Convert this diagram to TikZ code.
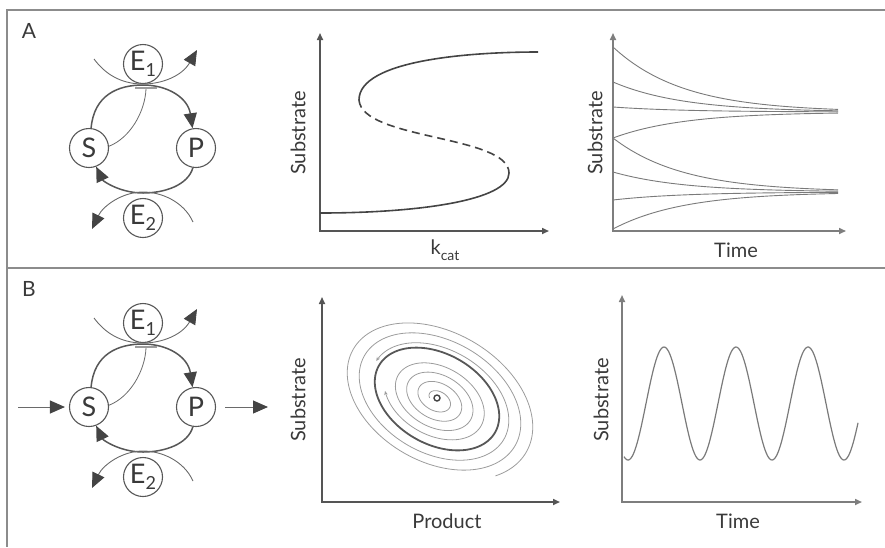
\documentclass[tikz,border=0pt]{standalone}
\usepackage{fontspec}
\setmainfont{Lato}
\usetikzlibrary{arrows.meta}
\definecolor{framec}{HTML}{8C8C8C}
\definecolor{axdark}{HTML}{555555}
\definecolor{axlight}{HTML}{7E7E7E}
\definecolor{txt}{HTML}{3A3A3A}
\definecolor{cycc}{HTML}{575757}
\definecolor{thinc}{HTML}{6A6A6A}
\definecolor{tipc}{HTML}{444444}
\definecolor{curvec}{HTML}{7A7A7A}
\definecolor{spirc}{HTML}{9C9C9C}
\newcommand\mysub[1]{\raisebox{-0.24em}{\fontsize{18}{18}\selectfont #1}}
\tikzset{
  species/.style={circle,draw=cycc,line width=1.1pt,minimum size=39pt,inner sep=0pt,text=txt,font=\fontsize{27}{27}\selectfont},
  bigtip/.tip={Triangle[length=15pt,width=13pt,color=tipc]},
  cycarc/.style={draw=cycc,line width=1.5pt,-bigtip},
  enzarc/.style={draw=thinc,line width=0.9pt,-bigtip},
  inhib/.style={draw=thinc,line width=0.8pt},
  tbar/.style={draw=spirc,line width=1.5pt},
  flow/.style={draw=thinc,line width=1pt,-bigtip},
  panelline/.style={draw=framec,line width=1.6pt},
  lbl/.style={text=txt,font=\fontsize{20}{24}\selectfont,inner sep=0pt},
  axd/.style={draw=axdark,line width=1.6pt,{Triangle[length=7pt,width=6pt]}-{Triangle[length=7pt,width=6pt]}},
  axl/.style={draw=axlight,line width=1.6pt,{Triangle[length=7pt,width=6pt]}-{Triangle[length=7pt,width=6pt]}},
  bif/.style={draw=tipc,line width=1.6pt},
  tc/.style={draw=curvec,line width=0.9pt},
  spir/.style={draw=spirc,line width=0.8pt},
  lcyc/.style={draw=cycc,line width=1.8pt},
  futile/.pic={
    \node[species] (-S) at (89,148) {S};
    \node[species] (-P) at (196,148) {P};
    \node[species] (-E1) at (143,64) {E\mysub{1}};
    \node[species] (-E2) at (143,218) {E\mysub{2}};
    \draw[cycarc] (-S.84) .. controls (94,95) and (118,85) .. (143,85) .. controls (168,85) and (188,98) .. (-P.100);
    \draw[cycarc] (-P.261) .. controls (188,185) and (165,193) .. (143,193) .. controls (120,193) and (103,181) .. (-S.291);
    \coordinate (-e1a) at (94,59);
    \coordinate (-e1b) at (197,50);
    \draw[enzarc] (-e1a) .. controls (108,78) and (126,84) .. (143,84) .. controls (162,84) and (182,76) .. (-e1b);
    \coordinate (-e2a) at (193,222);
    \coordinate (-e2b) at (92,229);
    \draw[enzarc] (-e2a) .. controls (184,202) and (162,192) .. (143,192) .. controls (122,192) and (103,206) .. (-e2b);
    \coordinate (-ta) at (135,88);
    \coordinate (-tb) at (157,88);
    \coordinate (-tm) at (146,89);
    \draw[inhib] (-S.5) .. controls (130,138) and (145,112) .. (-tm);
    \draw[tbar] (-ta) -- (-tb);
  }
}
\begin{document}
\begin{tikzpicture}[x=1pt,y=-1pt]
\useasboundingbox (0,0) rectangle (885,547);
% frame
\coordinate (f1) at (7,10);
\coordinate (f2) at (885,10);
\coordinate (f3) at (7,547);
\coordinate (f4) at (7,268);
\coordinate (f5) at (885,268);
\draw[panelline] (f2) -- (f1) -- (f3);
\draw[panelline] (f4) -- (f5);
\node[lbl,font=\fontsize{21}{24}\selectfont] (labA) at (29,31) {A};
\node[lbl,font=\fontsize{21}{24}\selectfont] (labB) at (29,289) {B};

% cycles
\pic (A) at (0,0) {futile};
\pic (B) at (0,259) {futile};
\coordinate (inB) at (18,407);
\coordinate (outBa) at (225,407);
\coordinate (outBb) at (268,407);
\draw[flow,shorten >=4pt] (inB) -- (B-S.west);
\draw[flow] (outBa) -- (outBb);

% A middle: bifurcation
\coordinate (a1O) at (320,231);
\coordinate (a1Y) at (320,33);
\coordinate (a1X) at (549,231);
\draw[axd] (a1Y) -- (a1O) -- (a1X);
\node[lbl,rotate=90] (a1yl) at (298,133) {Substrate};
\node[lbl] (a1xl) at (445,250) {k\raisebox{-0.3em}{\fontsize{14}{14}\selectfont cat}};
\coordinate (sc1) at (538,52);
\coordinate (sc2) at (359,100);
\coordinate (sc3) at (509,173);
\coordinate (sc4) at (320,213);
\draw[bif] (sc1) .. controls (470,52) and (359,60) .. (sc2);
\draw[bif,dash pattern=on 8pt off 5pt] (sc2) .. controls (362,140) and (509,135) .. (sc3);
\draw[bif] (sc3) .. controls (509,200) and (420,213) .. (sc4);

% A right: time courses
\coordinate (a2O) at (613,231);
\coordinate (a2Y) at (613,33);
\coordinate (a2X) at (846,231);
\draw[axl] (a2Y) -- (a2O) -- (a2X);
\node[lbl,rotate=90] (a2yl) at (595,133) {Substrate};
\node[lbl] (a2xl) at (736,250) {Time};
\foreach \ya/\yb in {47/112, 82/112, 107/112, 138/112, 138/192, 172/192, 200/192, 229/192}
  \draw[tc] plot[domain=0:225,samples=90,smooth] ({613+\x},{\yb+(\ya-\yb)*exp(-\x/70)});

% B middle: phase plane
\coordinate (b1O) at (322,502);
\coordinate (b1Y) at (322,297);
\coordinate (b1X) at (560,502);
\draw[axd] (b1Y) -- (b1O) -- (b1X);
\node[lbl,rotate=90] (b1yl) at (298,400) {Substrate};
\node[lbl] (b1xl) at (447,521) {Product};
\draw[lcyc] plot[domain=0:360,samples=120,smooth] ({437+67*cos(\x)*0.8660-45*sin(\x)*0.5},{399+67*cos(\x)*0.5+45*sin(\x)*0.8660});
\draw[spir,-{Stealth[length=4pt,width=3.5pt]}] plot[domain=-1290:150,samples=450,smooth] ({437+(0.12+0.725*(\x+1290)/1440)*(67*cos(\x)*0.8660-45*sin(\x)*0.5)},{399+(0.12+0.725*(\x+1290)/1440)*(67*cos(\x)*0.5+45*sin(\x)*0.8660)});
\draw[spir,{Stealth[length=4pt,width=3.5pt]}-] plot[domain=-897:32,samples=400,smooth] ({437+(1.07+0.497*(\x+897)/929)*(67*cos(\x)*0.8660-45*sin(\x)*0.5)},{399+(1.07+0.497*(\x+897)/929)*(67*cos(\x)*0.5+45*sin(\x)*0.8660)});
\node[circle,draw=tipc,line width=1.4pt,minimum size=6pt,inner sep=0pt] (fp) at (437,398) {};

% B right: oscillation
\coordinate (b2O) at (622,502);
\coordinate (b2Y) at (622,295);
\coordinate (b2X) at (862,502);
\draw[axl] (b2Y) -- (b2O) -- (b2X);
\node[lbl,rotate=90] (b2yl) at (601,400) {Substrate};
\node[lbl] (b2xl) at (738,521) {Time};
\draw[tc,line width=1.2pt] plot[domain=624:858,samples=200,smooth] (\x,{403.5+56.5*cos(5*(\x-628))});
\end{tikzpicture}
\end{document}
